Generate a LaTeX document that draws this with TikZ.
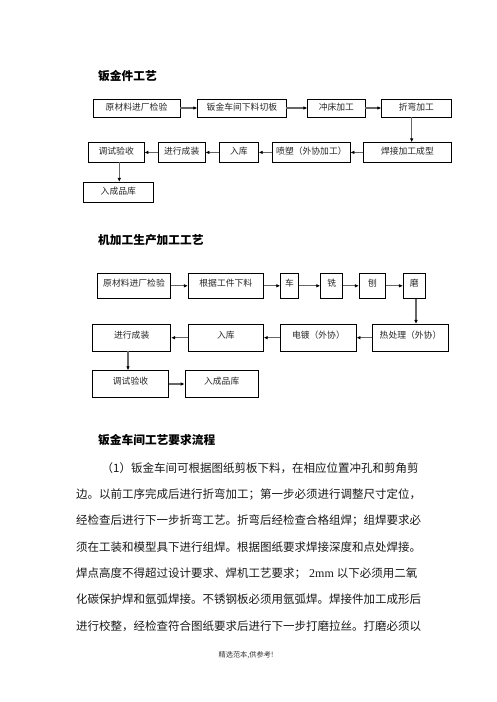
\documentclass[tikz,border=0pt]{standalone}
\usepackage{fontspec}
\setmainfont{Liberation Serif}
\newfontfamily\cjk{Noto Sans CJK SC}
\usetikzlibrary{arrows.meta}
\begin{document}
\begin{tikzpicture}[x=1pt,y=-1pt,
  box/.style={draw=black, line width=0.8pt, inner sep=0pt, font=\cjk\fontsize{8.8}{10}\selectfont, text=black!85, text height=7pt, text depth=2pt},
  boxb/.style={box, text depth=6pt},
  flow/.style={draw=black!60, line width=1.2pt, -{Latex[length=4pt,width=3.6pt,black]}},
  title/.style={font=\cjk\bfseries\fontsize{11.7}{13}\selectfont, anchor=west, inner sep=0pt},
  para/.style={font=\cjk\fontsize{11.5}{13}\selectfont, anchor=west, inner sep=0pt, text=black!90},
]
\useasboundingbox (0,0) rectangle (496,702);
\fill[white] (0,0) rectangle (496,702);

% ---- section 1
\node[title] (t1) at (98,76) {钣金件工艺};
\node[box, minimum width=87pt,   minimum height=18pt] (A) at (136.5,108) {原材料进厂检验};
\node[box, minimum width=88.3pt, minimum height=18pt] (B) at (241.9,108) {钣金车间下料切板};
\node[box, minimum width=57.3pt, minimum height=18pt] (C) at (336.4,108) {冲床加工};
\node[box, minimum width=69.3pt, minimum height=18pt] (D) at (416.4,108) {折弯加工};
\node[box, minimum width=87.3pt, minimum height=19.3pt] (E) at (407.4,152.4) {焊接加工成型};
\node[box, minimum width=77.3pt, minimum height=19.3pt] (F) at (311.4,152.4) {喷塑（外协加工）};
\node[box, minimum width=39pt,   minimum height=19.3pt] (G) at (238.8,152.4) {入库};
\node[box, minimum width=46.7pt, minimum height=19.3pt] (H) at (181.7,152.4) {进行成装};
\node[box, minimum width=55.7pt, minimum height=19.3pt] (I) at (116.2,152.4) {调试验收};
\node[box, minimum width=70pt,   minimum height=20pt] (J) at (118.3,192.3) {入成品库};
\draw[flow] (A) -- (B);
\draw[flow] (B) -- (C);
\draw[flow] (C) -- (D);
\draw[flow] (D.south -| 411.7,0) -- (E.north -| 411.7,0);
\draw[flow] (E) -- (F);
\draw[flow] (F) -- (G);
\draw[flow] (G) -- (H);
\draw[flow] (H) -- (I);
\draw[flow] (I.south -| 119.3,0) -- (J.north -| 119.3,0);

% ---- section 2
\node[title] (t2) at (98,240) {机加工生产加工工艺};
\node[boxb, minimum width=73.4pt, minimum height=25pt] (a1) at (134,285.8) {原材料进厂检验};
\node[boxb, minimum width=75pt,   minimum height=25pt] (a2) at (225.8,285.8) {根据工件下料};
\node[boxb, minimum width=17.6pt, minimum height=25pt] (a3) at (289.5,285.8) {车};
\node[boxb, minimum width=22pt,   minimum height=25pt] (a4) at (331.7,285.8) {铣};
\node[boxb, minimum width=26.4pt, minimum height=25pt] (a5) at (372.5,285.8) {刨};
\node[boxb, minimum width=21.7pt, minimum height=25pt] (a6) at (414.2,285.8) {磨};
\node[boxb, minimum width=75.6pt, minimum height=26.7pt] (b1) at (410.5,337.7) {热处理（外协）};
\node[boxb, minimum width=75.3pt, minimum height=26.7pt] (b2) at (318.4,337.7) {电镀（外协）};
\node[boxb, minimum width=75pt,   minimum height=26.7pt] (b3) at (225.8,337.7) {入库};
\node[boxb, minimum width=78pt,   minimum height=26.7pt] (b4) at (131.7,337.7) {进行成装};
\node[boxb, minimum width=75.6pt, minimum height=26.6pt] (c1) at (130.5,384) {调试验收};
\node[boxb, minimum width=73.3pt, minimum height=26.6pt] (c2) at (221.7,384) {入成品库};
\draw[flow] (a1) -- (a2);
\draw[flow] (a2) -- (a3);
\draw[flow] (a3) -- (a4);
\draw[flow] (a4) -- (a5);
\draw[flow] (a5) -- (a6);
\draw[flow] (a6.south -| 416,0) -- (b1.north -| 416,0);
\draw[flow] (b1) -- (b2);
\draw[flow] (b2) -- (b3);
\draw[flow] (b3) -- (b4);
\draw[flow] (b4.south -| 128,0) -- (c1.north -| 128,0);
\draw[flow] (c1) -- (c2);

% ---- section 3
\node[title] (t3) at (98,440) {钣金车间工艺要求流程};
\node[para] (p1) at (101.5,468) {（1）钣金车间可根据图纸剪板下料，在相应位置冲孔和剪角剪};
\node[para] (p2) at (76,494.3) {边。以前工序完成后进行折弯加工；第一步必须进行调整尺寸定位，};
\node[para] (p3) at (76,520.6) {经检查后进行下一步折弯工艺。折弯后经检查合格组焊；组焊要求必};
\node[para] (p4) at (76,546.9) {须在工装和模型具下进行组焊。根据图纸要求焊接深度和点处焊接。};
\node[para] (p5) at (76,573.2) {焊点高度不得超过设计要求、焊机工艺要求；{\rmfamily\fontsize{12}{13}\selectfont\ 2mm\ }以下必须用二氧};
\node[para] (p6) at (76,599.5) {化碳保护焊和氩弧焊接。不锈钢板必须用氩弧焊。焊接件加工成形后};
\node[para] (p7) at (76,625.8) {进行校整，经检查符合图纸要求后进行下一步打磨拉丝。打磨必须以};

\node[font=\cjk\fontsize{7.2}{8}\selectfont, inner sep=0pt, text=black!80] (foot) at (246,655) {精选范本,供参考!};
\end{tikzpicture}
\end{document}
